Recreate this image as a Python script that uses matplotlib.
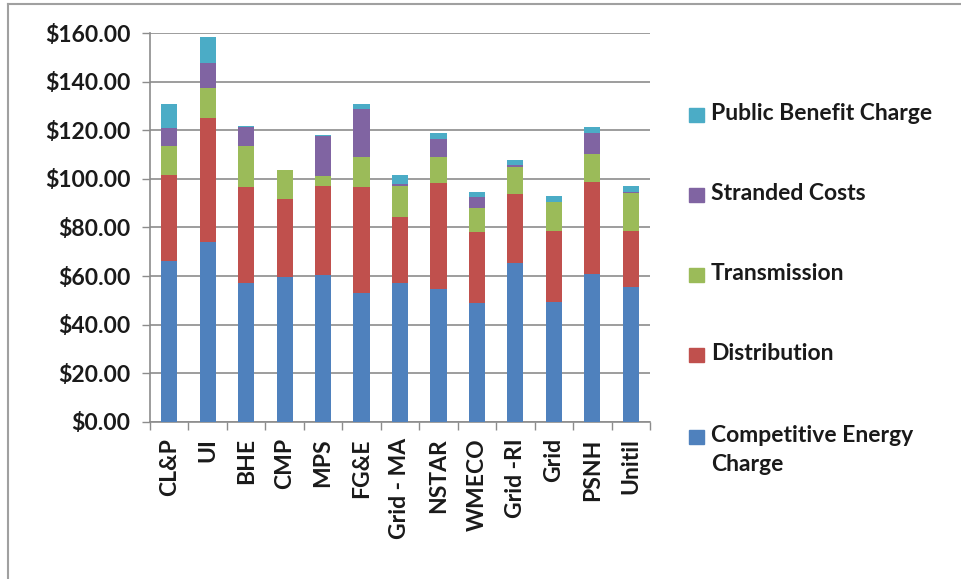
import matplotlib
matplotlib.use("Agg")
import matplotlib.pyplot as plt
import numpy as np
from matplotlib.lines import Line2D

categories = ["CL&P", "UI", "BHE", "CMP", "MPS", "FG&E", "Grid - MA", "NSTAR",
              "WMECO", "Grid -RI", "Grid", "PSNH", "Unitil"]
competitive = [66.2, 74.2, 57.0, 59.8, 60.4, 52.9, 57.0, 54.5, 48.8, 65.2, 49.5, 60.9, 55.6]
distribution = [35.4, 50.8, 39.6, 32.0, 36.7, 43.7, 27.5, 44.0, 29.2, 28.6, 29.1, 38.0, 23.0]
transmission = [12.0, 12.4, 17.0, 11.9, 4.1, 12.6, 12.6, 10.7, 9.9, 11.3, 11.8, 11.4, 15.5]
stranded = [7.3, 10.5, 8.0, 0.0, 16.5, 19.5, 0.7, 7.1, 4.5, 0.7, 0.0, 8.5, 0.7]
public_benefit = [9.9, 10.7, 0.3, 0.0, 0.4, 2.1, 3.8, 2.5, 2.1, 2.0, 2.7, 2.8, 2.3]
series_names = ["Competitive Energy\nCharge", "Distribution", "Transmission",
                "Stranded Costs", "Public Benefit Charge"]
yticks = [0, 20, 40, 60, 80, 100, 120, 140, 160]

colors = ["#4F81BD", "#C0504D", "#9BBB59", "#8064A2", "#4BACC6"]
font = ["Lato", "DejaVu Sans"]
fs = 16.5
fw = "bold"

W, H = 961, 579
fig = plt.figure(figsize=(W / 100, H / 100), dpi=100)
ax = fig.add_axes([150 / W, 1 - 421.7 / H, 500 / W, (421.7 - 33.3) / H])

x = np.arange(len(categories))
bottom = np.zeros(len(categories))
data = [competitive, distribution, transmission, stranded, public_benefit]
for vals, c in zip(data, colors):
    ax.bar(x, vals, width=0.42, bottom=bottom, color=c, zorder=3)
    bottom += np.array(vals)

ax.set_xlim(-0.5, len(categories) - 0.5)
ax.set_ylim(0, 160)
ax.set_yticks(yticks)
ax.set_yticklabels([f"${v:.2f}" for v in yticks], fontfamily=font, fontsize=fs,
                   fontweight=fw, color="#1a1a1a")
ax.yaxis.grid(True, color="#8c8c8c", linewidth=1.2, zorder=0)
ax.set_xticks(x)
ax.set_xticklabels(categories, rotation=90, fontfamily=font, fontsize=fs,
                   fontweight=fw, va="top", color="#1a1a1a")
ax.tick_params(axis="x", length=0, pad=12)
ax.tick_params(axis="y", length=6, color="#8c8c8c", width=1, pad=8)
ax.set_xticks(np.arange(-0.5, len(categories), 1.0), minor=True)
ax.tick_params(axis="x", which="minor", length=6, color="#8c8c8c", width=1)
for s in ["top", "right"]:
    ax.spines[s].set_visible(False)
for s in ["left", "bottom"]:
    ax.spines[s].set_color("#8c8c8c")
    ax.spines[s].set_linewidth(1.2)

# legend (reverse order, Excel style)
legend_y = [115, 195, 275, 355, 437]
for name, c, ly in zip(series_names[::-1], colors[::-1], legend_y):
    fig.patches.append(plt.Rectangle((689 / W, 1 - (ly + 7) / H), 15 / W, 14 / H,
                                     transform=fig.transFigure, color=c, figure=fig))
    fig.text(711 / W, 1 - (ly - 12) / H, name, fontfamily=font, fontsize=fs,
             fontweight=fw, va="top", ha="left", linespacing=1.45, color="#1a1a1a")

# outer border (left and top visible)
fig.add_artist(Line2D([8 / W, 8 / W], [0, 1 - 4 / H], color="#a0a0a0", lw=1.5))
fig.add_artist(Line2D([8 / W, 1], [1 - 4 / H, 1 - 4 / H], color="#a0a0a0", lw=1.5))

fig.savefig("out.png", dpi=100)
